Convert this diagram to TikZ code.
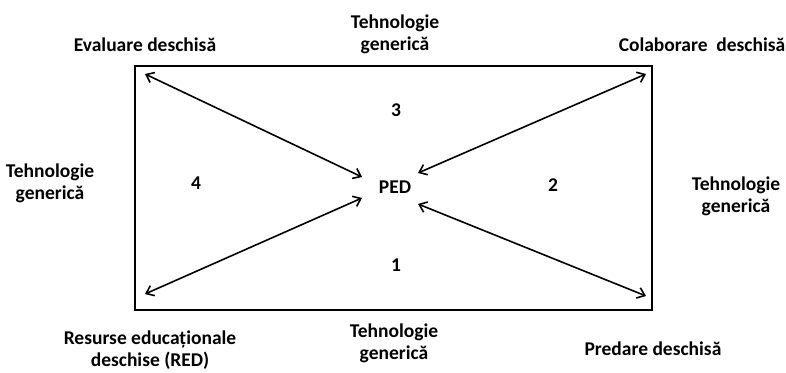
\documentclass[tikz,border=0pt]{standalone}
\usepackage{fontspec}
\setmainfont{Carlito}
\usetikzlibrary{arrows.meta}

\begin{document}
\begin{tikzpicture}[
                    x=1pt, y=-1pt,
                    >={Straight Barb[length=7pt,width=11pt]},
                    frame/.style={draw, line width=1.8pt},
                    link/.style={<->, line width=1.6pt},
                    every node/.style={font=\fontsize{19.5}{22}\selectfont\bfseries, align=center, inner sep=0pt}
                ]
                  \useasboundingbox (0,0) rectangle (786,372);
                  \draw[frame] (135,66) rectangle (652,310);
                  % ends of the arrows
                  \coordinate (evc) at (145,74);
                  \coordinate (coc) at (646,74);
                  \coordinate (rec) at (145,294);
                  \coordinate (prc) at (646,296);
                  \node (ped) at (395,187) {PED};
                  \coordinate (pnw) at (362,177);
                  \coordinate (pne) at (418,173);
                  \coordinate (psw) at (362,198);
                  \coordinate (pse) at (418,204);
                  \draw[link] (evc) -- (pnw);
                  \draw[link] (coc) -- (pne);
                  \draw[link] (rec) -- (psw);
                  \draw[link] (prc) -- (pse);
                  % numbers
                  \node (n3) at (396,110) {3};
                  \node (n2) at (553,185) {2};
                  \node (n4) at (196,183) {4};
                  \node (n1) at (396,265) {1};
                  % labels outside
                  \node (ev) at (145,45) {Evaluare deschisă};
                  \node (co) at (702,45) {Colaborare\ \ deschisă};
                  \node (tt) at (395,34) {Tehnologie\\generică};
                  \node (tl) at (50,183) {Tehnologie\\generică};
                  \node (tr) at (736,196) {Tehnologie\\generică};
                  \node (tb) at (394,343) {Tehnologie\\generică};
                  \node (re) at (150,350) {Resurse educaționale\\deschise (RED)};
                  \node (pr) at (653,349) {Predare deschisă};
                \end{tikzpicture}
\end{document}
